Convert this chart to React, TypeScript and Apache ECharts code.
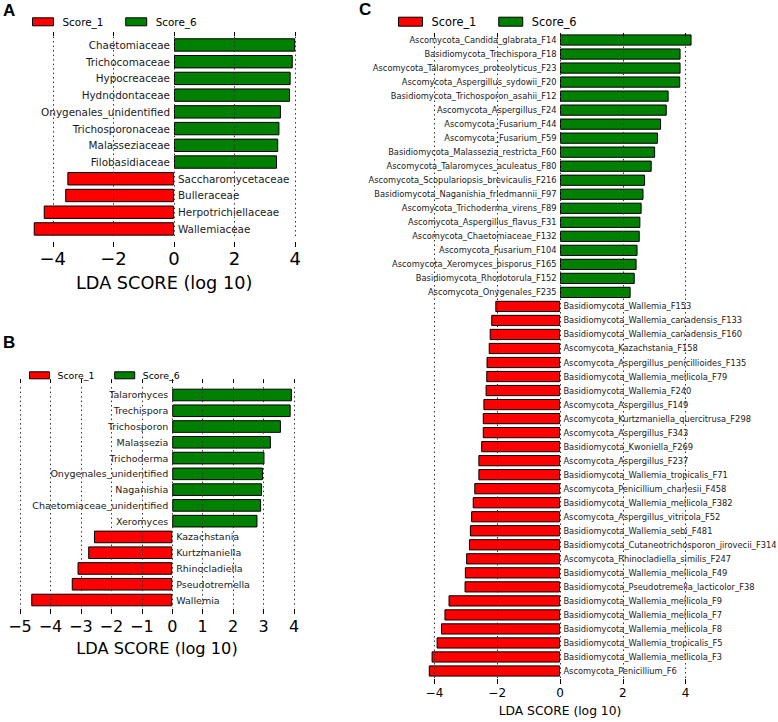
import React, { useEffect, useRef } from "react";
import * as echarts from "echarts";

const FONT = "DejaVu Sans";
const RED = "#ff0000";
const GREEN = "#008000";
const AXIS_TITLE = "LDA SCORE (log 10)";
const SERIES_NAMES = ["Score_1", "Score_6"];

// ---------- Panel A ----------
const aGreenNames = [
  "Chaetomiaceae",
  "Trichocomaceae",
  "Hypocreaceae",
  "Hydnodontaceae",
  "Onygenales_unidentified",
  "Trichosporonaceae",
  "Malasseziaceae",
  "Filobasidiaceae",
];
const aGreenValues = [4.0, 3.92, 3.85, 3.83, 3.53, 3.48, 3.44, 3.4];
const aRedNames = ["Saccharomycetaceae", "Bulleraceae", "Herpotrichiellaceae", "Wallemiaceae"];
const aRedValues = [-3.52, -3.59, -4.3, -4.63];
const aTicks = [-4, -2, 0, 2, 4];

// ---------- Panel B ----------
const bGreenNames = [
  "Talaromyces",
  "Trechispora",
  "Trichosporon",
  "Malassezia",
  "Trichoderma",
  "Onygenales_unidentified",
  "Naganishia",
  "Chaetomiaceae_unidentified",
  "Xeromyces",
];
const bGreenValues = [3.93, 3.89, 3.57, 3.24, 3.03, 2.98, 2.95, 2.92, 2.8];
const bRedNames = ["Kazachstania", "Kurtzmaniella", "Rhinocladiella", "Pseudotremella", "Wallemia"];
const bRedValues = [-2.57, -2.76, -3.11, -3.3, -4.63];
const bTicks = [-5, -4, -3, -2, -1, 0, 1, 2, 3, 4];

// ---------- Panel C ----------
const cGreenNames = [
  "Ascomycota_Candida_glabrata_F14",
  "Basidiomycota_Trechispora_F18",
  "Ascomycota_Talaromyces_proteolyticus_F23",
  "Ascomycota_Aspergillus_sydowii_F20",
  "Basidiomycota_Trichosporon_asahii_F12",
  "Ascomycota_Aspergillus_F24",
  "Ascomycota_Fusarium_F44",
  "Ascomycota_Fusarium_F59",
  "Basidiomycota_Malassezia_restricta_F60",
  "Ascomycota_Talaromyces_aculeatus_F80",
  "Ascomycota_Scopulariopsis_brevicaulis_F216",
  "Basidiomycota_Naganishia_friedmannii_F97",
  "Ascomycota_Trichoderma_virens_F89",
  "Ascomycota_Aspergillus_flavus_F31",
  "Ascomycota_Chaetomiaceae_F132",
  "Ascomycota_Fusarium_F104",
  "Ascomycota_Xeromyces_bisporus_F165",
  "Basidiomycota_Rhodotorula_F152",
  "Ascomycota_Onygenales_F235",
];
const cGreenValues = [
  4.19, 3.84, 3.84, 3.83, 3.46, 3.4, 3.22, 3.12, 3.03, 2.92, 2.71, 2.66, 2.6, 2.56, 2.54, 2.47, 2.44,
  2.38, 2.25,
];
const cRedNames = [
  "Basidiomycota_Wallemia_F153",
  "Basidiomycota_Wallemia_canadensis_F133",
  "Basidiomycota_Wallemia_canadensis_F160",
  "Ascomycota_Kazachstania_F158",
  "Ascomycota_Aspergillus_penicillioides_F135",
  "Basidiomycota_Wallemia_mellicola_F79",
  "Basidiomycota_Wallemia_F240",
  "Ascomycota_Aspergillus_F149",
  "Ascomycota_Kurtzmaniella_quercitrusa_F298",
  "Ascomycota_Aspergillus_F343",
  "Basidiomycota_Kwoniella_F269",
  "Ascomycota_Aspergillus_F237",
  "Basidiomycota_Wallemia_tropicalis_F71",
  "Ascomycota_Penicillium_charlesii_F458",
  "Basidiomycota_Wallemia_mellicola_F382",
  "Ascomycota_Aspergillus_vitricola_F52",
  "Basidiomycota_Wallemia_sebi_F481",
  "Basidiomycota_Cutaneotrichosporon_jirovecii_F314",
  "Ascomycota_Rhinocladiella_similis_F247",
  "Basidiomycota_Wallemia_mellicola_F49",
  "Basidiomycota_Pseudotremella_lacticolor_F38",
  "Basidiomycota_Wallemia_mellicola_F9",
  "Basidiomycota_Wallemia_mellicola_F7",
  "Basidiomycota_Wallemia_mellicola_F8",
  "Basidiomycota_Wallemia_tropicalis_F5",
  "Basidiomycota_Wallemia_mellicola_F3",
  "Ascomycota_Penicillium_F6",
];
const cRedValues = [
  -2.06, -2.19, -2.24, -2.27, -2.34, -2.35, -2.37, -2.44, -2.46, -2.46, -2.51, -2.6, -2.6, -2.73,
  -2.78, -2.83, -2.87, -2.9, -2.99, -3.03, -3.04, -3.55, -3.68, -3.79, -3.93, -4.09, -4.18,
];
const cTicks = [-4, -2, 0, 2, 4];

type PanelCfg = {
  greenNames: string[];
  greenValues: number[];
  redNames: string[];
  redValues: number[];
  ticks: number[];
  min: number;
  max: number;
  grid: { left: number; top: number; width: number; height: number };
  bottomOffset: number;
  topOffset: number;
  tickFont: number;
  tickMargin: number;
  titleFont: number;
  nameGap: number;
  labelFont: number;
  labelDist: number;
  legend: { left: number; top: number; w: number; h: number; gap: number; font: number; pad: number };
};

const fmt = (v: number) => (v < 0 ? "\u2212" + Math.abs(v) : String(v));

function buildPanel(i: number, p: PanelCfg) {
  const cats = [...p.greenNames, ...p.redNames];
  const greenData = [...p.greenValues, ...p.redNames.map(() => "-")];
  const redData = [...p.greenNames.map(() => "-"), ...p.redValues];
  const grid = { ...p.grid, containLabel: false };
  const xBottom = {
    type: "value",
    gridIndex: i,
    min: p.min,
    max: p.max,
    position: "bottom",
    offset: p.bottomOffset,
    z: 5,
    axisLine: { show: false },
    axisTick: {
      show: true,
      inside: true,
      length: 5,
      customValues: p.ticks,
      lineStyle: { color: "#000", width: 1 },
    },
    axisLabel: {
      customValues: p.ticks,
      formatter: fmt,
      fontSize: p.tickFont,
      fontFamily: FONT,
      color: "#000",
      margin: p.tickMargin,
    },
    splitLine: {
      show: true,
      lineStyle: { type: [1.5, 3], color: "#333", width: 1 },
    },
    name: AXIS_TITLE,
    nameLocation: "middle",
    nameGap: p.nameGap,
    nameTextStyle: { fontSize: p.titleFont, fontFamily: FONT, color: "#000" },
  };
  const xTop = {
    type: "value",
    gridIndex: i,
    min: p.min,
    max: p.max,
    position: "top",
    offset: p.topOffset,
    z: 5,
    axisLine: { show: false },
    axisTick: {
      show: true,
      inside: true,
      length: 4,
      customValues: p.ticks,
      lineStyle: { color: "#000", width: 1 },
    },
    axisLabel: { show: false },
    splitLine: { show: false },
  };
  const yAxis = {
    type: "category",
    gridIndex: i,
    data: cats,
    inverse: true,
    show: false,
  };
  const labelBase = {
    show: true,
    formatter: "{b}",
    fontSize: p.labelFont,
    fontFamily: FONT,
    color: "#1a1a1a",
    distance: p.labelDist,
  };
  const series = [
    {
      type: "bar",
      name: "Score_6",
      xAxisIndex: 2 * i,
      yAxisIndex: i,
      data: greenData,
      barWidth: "80%",
      barGap: "-100%",
      itemStyle: { color: GREEN, borderColor: "#000", borderWidth: 1 },
      label: { ...labelBase, position: "left" },
    },
    {
      type: "bar",
      name: "Score_1",
      xAxisIndex: 2 * i,
      yAxisIndex: i,
      data: redData,
      barWidth: "80%",
      barGap: "-100%",
      itemStyle: { color: RED, borderColor: "#000", borderWidth: 1 },
      label: { ...labelBase, position: "right" },
    },
  ];
  const L = p.legend;
  const legend = {
    left: L.left,
    top: L.top,
    orient: "horizontal",
    padding: 0,
    icon: "rect",
    itemWidth: L.w,
    itemHeight: L.h,
    itemGap: L.gap,
    selectedMode: false,
    data: SERIES_NAMES,
    itemStyle: { borderColor: "#000", borderWidth: 1 },
    textStyle: {
      fontSize: L.font,
      fontFamily: FONT,
      color: "#000",
      padding: [0, 0, 0, L.pad],
      lineHeight: Math.round(L.font * 1.2),
    },
  };
  return { grid, xAxes: [xBottom, xTop], yAxis, series, legend };
}

const panels: PanelCfg[] = [
  {
    greenNames: aGreenNames,
    greenValues: aGreenValues,
    redNames: aRedNames,
    redValues: aRedValues,
    ticks: aTicks,
    min: -4.7,
    max: 4.05,
    grid: { left: 31.6, top: 36.6, width: 265.1, height: 200.7 },
    bottomOffset: 9.7,
    topOffset: 4.6,
    tickFont: 18,
    tickMargin: 2,
    titleFont: 17.7,
    nameGap: 27,
    labelFont: 10.4,
    labelDist: 4,
    legend: { left: 32, top: 15.8, w: 21, h: 8, gap: 21.8, font: 10.4, pad: 4 },
  },
  {
    greenNames: bGreenNames,
    greenValues: bGreenValues,
    redNames: bRedNames,
    redValues: bRedValues,
    ticks: bTicks,
    min: -5,
    max: 4,
    grid: { left: 20, top: 387.1, width: 274, height: 220.8 },
    bottomOffset: 6,
    topOffset: 8,
    tickFont: 16,
    tickMargin: 5,
    titleFont: 16.2,
    nameGap: 27,
    labelFont: 9.5,
    labelDist: 4,
    legend: { left: 29, top: 369.8, w: 20, h: 7, gap: 19.8, font: 9.4, pad: 3 },
  },
  {
    greenNames: cGreenNames,
    greenValues: cGreenValues,
    redNames: cRedNames,
    redValues: cRedValues,
    ticks: cTicks,
    min: -4.3,
    max: 4.3,
    grid: { left: 425, top: 33, width: 270, height: 648.1 },
    bottomOffset: 6,
    topOffset: 0,
    tickFont: 12,
    tickMargin: 3,
    titleFont: 12.3,
    nameGap: 21,
    labelFont: 8.3,
    labelDist: 3.4,
    legend: { left: 398, top: 14.7, w: 24, h: 9, gap: 21.9, font: 11.4, pad: 4 },
  },
];

const panelLetters = [
  { text: "A", x: 3, y: 2 },
  { text: "B", x: 3, y: 334 },
  { text: "C", x: 359, y: 1 },
];

export default function App() {
  const ref = useRef<HTMLDivElement>(null);
  useEffect(() => {
    if (!ref.current) return;
    const chart = echarts.init(ref.current, undefined, { renderer: "svg" });
    const built = panels.map((p, i) => buildPanel(i, p));
    const option: any = {
      animation: false,
      backgroundColor: "#fff",
      textStyle: { fontFamily: FONT },
      grid: built.map((b) => b.grid),
      xAxis: built.flatMap((b) => b.xAxes),
      yAxis: built.map((b) => b.yAxis),
      series: built.flatMap((b) => b.series),
      legend: built.map((b) => b.legend),
      graphic: panelLetters.map((l) => ({
        type: "text",
        left: l.x,
        top: l.y,
        style: {
          text: l.text,
          fontSize: 17,
          fontWeight: "bold",
          fontFamily: "Liberation Sans",
          fill: "#000",
        },
      })),
    };
    chart.setOption(option);
    return () => chart.dispose();
  }, []);
  return (
    <div
      ref={ref}
      style={{ position: "fixed", left: 0, top: 0, width: 778, height: 722, background: "#fff" }}
    />
  );
}
